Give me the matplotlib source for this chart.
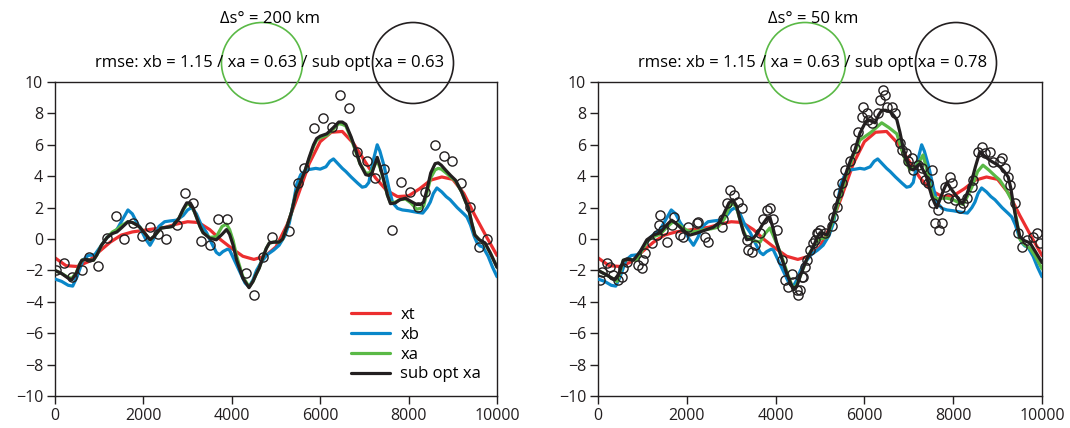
import matplotlib
matplotlib.use("Agg")
import matplotlib.pyplot as plt
from matplotlib.patches import Ellipse

plt.rcParams['font.family'] = ['Open Sans', 'DejaVu Sans']

# ---------------- data ----------------
xt_x = [0, 250, 500, 750, 1000, 1250, 1500, 1750, 2000, 2250, 2500, 2750, 3000, 3250,
        3500, 3750, 4000, 4250, 4500, 4750, 5000, 5250, 5500, 5750, 6000, 6250, 6500,
        6750, 7000, 7250, 7500, 7750, 8000, 8250, 8500, 8750, 9000, 9250, 9500, 9750, 10000]
xt_y = [-1.2, -1.7, -1.75, -1.45, -0.8, -0.2, 0.25, 0.45, 0.55, 0.65, 0.75, 0.95, 1.1, 1.05,
        0.6, -0.05, -0.6, -1.1, -1.3, -1.1, -0.5, 0.9, 2.8, 4.8, 6.2, 6.8, 6.85,
        6.1, 5.0, 3.9, 3.1, 2.7, 2.75, 3.2, 3.75, 3.95, 3.8, 2.9, 1.5, 0.2, -1.05]

xb_x = [0, 150, 300, 400, 500, 630, 750, 900, 1050, 1180, 1300, 1400, 1500, 1650, 1750,
        1850, 1920, 2050, 2150, 2250, 2350, 2480, 2600, 2750, 2900, 3000, 3090, 3200,
        3300, 3430, 3550, 3650, 3720, 3800, 3900, 3950, 4050, 4200, 4300, 4390, 4480,
        4560, 4660, 4800, 4950, 5070, 5200, 5300, 5400, 5470, 5560, 5680, 5800, 5900,
        6000, 6130, 6220, 6300, 6400, 6500, 6580, 6700, 6850, 6950, 7030, 7100, 7200,
        7290, 7350, 7450, 7550, 7640, 7750, 7860, 8000, 8190, 8320, 8420, 8490, 8560,
        8640, 8750, 8850, 8940, 9100, 9250, 9320, 9400, 9480, 9550, 9620, 9680, 9800,
        9900, 10000]
xb_y = [-2.55, -2.7, -2.95, -3.0, -2.4, -1.35, -1.05, -1.0, -0.4, 0.1, 0.4, 0.6, 1.1, 1.85, 1.6,
        1.05, 0.75, 0.0, -0.4, 0.1, 0.8, 1.1, 1.15, 1.2, 1.5, 1.85, 2.0, 1.6,
        0.95, 0.4, -0.3, -0.85, -1.0, -0.8, -0.65, -0.7, -1.3, -2.2, -2.8, -3.05, -2.6,
        -2.0, -1.5, -1.0, -0.7, -0.4, 0.2, 1.0, 2.4, 3.5, 4.1, 4.4, 4.45, 4.5,
        4.45, 4.6, 4.95, 5.1, 4.8, 4.5, 4.3, 3.95, 3.55, 3.3, 3.35, 3.6, 5.0,
        6.0, 5.6, 4.6, 3.3, 2.3, 1.95, 1.85, 1.8, 1.7, 1.65, 2.0, 2.35, 2.9,
        3.25, 3.0, 2.7, 2.5, 2.0, 1.6, 1.4, 0.9, 0.2, -0.25, -0.45, -0.5, -1.1,
        -1.8, -2.4]

# left panel (200 km)
sub1_x = [0, 150, 300, 380, 480, 560, 610, 700, 800, 870, 950, 1050, 1180, 1300, 1400,
          1500, 1650, 1750, 1850, 1920, 2050, 2150, 2250, 2400, 2550, 2660, 2800, 2900,
          2980, 3060, 3120, 3200, 3280, 3350, 3500, 3650, 3780, 3880, 3950, 4030, 4110,
          4250, 4390, 4480, 4550, 4620, 4700, 4780, 4850, 4950, 5070, 5150, 5250, 5350,
          5450, 5550, 5650, 5750, 5850, 5920, 6000, 6150, 6300, 6420, 6500, 6580, 6700,
          6800, 6900, 7030, 7100, 7170, 7230, 7290, 7370, 7450, 7520, 7590, 7700, 7800,
          7930, 8050, 8180, 8270, 8340, 8420, 8500, 8600, 8670, 8740, 8850, 8950, 9060,
          9200, 9300, 9350, 9430, 9500, 9600, 9730, 9850, 10000]
sub1_y = [-2.0, -2.2, -2.5, -2.6, -2.2, -1.6, -1.35, -1.3, -1.35, -1.35, -1.0, -0.4, 0.1, 0.35, 0.45,
          0.7, 1.1, 1.05, 0.9, 0.75, 0.3, -0.05, 0.2, 0.7, 0.75, 0.8, 1.3, 1.9,
          2.3, 2.3, 2.0, 1.4, 0.8, 0.4, 0.05, -0.05, 0.3, 0.6, 0.3, -0.4, -1.35,
          -2.5, -3.1, -2.7, -2.25, -1.85, -1.2, -0.6, -0.25, -0.2, -0.2, 0.0, 0.8, 1.7,
          2.9, 3.6, 4.3, 5.2, 6.0, 6.4, 6.55, 6.7, 7.1, 7.45, 7.45, 7.3, 6.5,
          5.7, 4.8, 4.1, 4.05, 4.2, 4.7, 5.2, 4.5, 3.6, 2.8, 2.25, 2.3, 2.5,
          2.6, 2.4, 2.2, 2.2, 2.35, 3.2, 4.2, 4.8, 4.85, 4.7, 4.35, 4.05, 3.75,
          3.0, 2.3, 2.0, 1.0, 0.25, -0.05, -0.25, -0.9, -1.8]

xa1_x = sub1_x
xa1_y = [-2.0, -2.2, -2.45, -2.5, -2.15, -1.6, -1.35, -1.3, -1.35, -1.35, -1.0, -0.4, 0.1, 0.45, 0.6,
         0.85, 1.1, 1.05, 0.9, 0.75, 0.3, -0.05, 0.2, 0.7, 0.75, 0.8, 1.3, 1.85,
         2.2, 2.2, 1.95, 1.4, 0.8, 0.4, 0.1, 0.15, 0.8, 0.95, 0.6, -0.1, -1.1,
         -2.4, -3.05, -2.7, -2.25, -1.85, -1.2, -0.6, -0.25, -0.2, -0.2, 0.0, 0.8, 1.7,
         2.9, 3.6, 4.3, 5.1, 5.9, 6.3, 6.45, 6.6, 7.0, 7.35, 7.3, 7.2, 6.4,
         5.6, 4.8, 4.2, 4.2, 4.35, 4.7, 5.0, 4.4, 3.6, 2.8, 2.3, 2.35, 2.5,
         2.55, 2.3, 1.9, 1.95, 2.1, 3.0, 3.9, 4.4, 4.5, 4.45, 4.2, 3.95, 3.7,
         3.0, 2.3, 2.0, 1.0, 0.25, -0.05, -0.3, -0.9, -1.8]

obs1_x = [30, 200, 380, 610, 770, 970, 1180, 1370, 1550, 1760, 1960, 2150, 2340, 2520,
          2750, 2930, 3130, 3310, 3510, 3690, 3890, 4320, 4500, 4700, 4900, 5290, 5500,
          5630, 5860, 6060, 6260, 6450, 6650, 6830, 7050, 7250, 7450, 7630, 7830, 8030,
          8210, 8380, 8600, 8800, 8990, 9190, 9390, 9590, 9780]
obs1_y = [-2.0, -1.5, -2.4, -2.0, -1.15, -1.7, 0.05, 1.45, 0.0, 1.0, 0.2, 0.75, 0.3, 0.0,
          0.9, 2.9, 2.3, -0.1, -0.4, 1.25, 1.25, -2.15, -3.55, -1.15, 0.15, 0.5, 3.55,
          4.5, 7.1, 7.7, 7.15, 9.15, 8.35, 5.55, 5.0, 3.9, 4.45, 0.6, 3.65, 3.0,
          2.05, 3.0, 6.0, 5.3, 5.0, 3.55, 2.05, -0.5, 0.0]

# right panel (50 km)
xa2_x = [0, 200, 430, 500, 570, 700, 870, 1000, 1100, 1250, 1400, 1550, 1690, 1800,
         1900, 2000, 2140, 2250, 2400, 2550, 2700, 2850, 2950, 3040, 3120, 3200, 3280,
         3350, 3500, 3650, 3750, 3870, 3950, 4040, 4140, 4280, 4400, 4480, 4550, 4620,
         4730, 4850, 4930, 5000, 5160, 5270, 5380, 5500, 5610, 5750, 5900, 6000, 6150,
         6270, 6390, 6550, 6730, 6850, 6950, 7030, 7150, 7250, 7320, 7400, 7480, 7550,
         7650, 7760, 7860, 8000, 8100, 8220, 8300, 8420, 8550, 8670, 8800, 8950, 9050,
         9200, 9350, 9430, 9500, 9600, 9730, 9850, 10000]
xa2_y = [-2.0, -2.3, -2.7, -2.1, -1.35, -1.3, -1.35, -0.7, -0.15, 0.15, 0.3, 0.75, 1.1, 0.95,
         0.75, 0.55, 0.45, 0.5, 0.6, 0.65, 0.75, 1.3, 2.0, 2.3, 2.0, 1.2, 0.5,
         0.05, -0.1, -0.2, 0.3, 0.7, 0.2, -0.4, -1.15, -2.3, -3.2, -2.9, -2.4, -1.9,
         -1.1, -0.5, -0.15, 0.0, 0.1, 1.0, 2.0, 3.1, 4.2, 5.3, 6.3, 6.5, 6.8,
         7.1, 7.4, 7.1, 6.7, 5.6, 4.8, 4.4, 4.6, 5.0, 5.35, 4.5, 3.4, 2.7,
         2.55, 2.6, 2.6, 2.5, 2.35, 2.2, 2.6, 3.3, 4.3, 4.7, 4.4, 4.0, 3.75,
         3.1, 2.3, 1.2, 0.0, -0.35, -0.6, -1.1, -1.9]

sub2_x = [0, 200, 380, 470, 570, 700, 800, 950, 1100, 1250, 1400, 1550, 1660, 1750,
          1850, 1950, 2070, 2200, 2300, 2450, 2600, 2750, 2850, 2950, 3040, 3120, 3200,
          3280, 3350, 3500, 3600, 3700, 3800, 3870, 3950, 4020, 4100, 4250, 4400, 4480,
          4550, 4620, 4700, 4850, 4920, 5000, 5080, 5160, 5270, 5380, 5500, 5610, 5700,
          5790, 5900, 6000, 6080, 6160, 6240, 6320, 6390, 6480, 6580, 6650, 6730, 6800,
          6870, 6950, 7030, 7100, 7170, 7250, 7320, 7400, 7460, 7520, 7580, 7630, 7700,
          7780, 7860, 7950, 8080, 8150, 8220, 8300, 8420, 8500, 8600, 8700, 8830, 8950,
          9050, 9150, 9240, 9300, 9350, 9420, 9500, 9600, 9730, 9850, 10000]
sub2_y = [-2.0, -2.3, -2.6, -2.2, -1.35, -1.3, -1.35, -0.8, -0.05, 0.25, 0.4, 0.9, 1.2, 1.0,
          0.75, 0.45, 0.25, 0.35, 0.45, 0.6, 0.75, 1.1, 1.7, 2.3, 2.5, 2.1, 1.2,
          0.4, -0.05, 0.05, 0.4, 0.9, 1.3, 1.4, 0.6, -0.2, -0.9, -2.2, -3.25, -3.0,
          -2.4, -1.85, -1.3, -0.5, 0.0, 0.4, 0.35, 0.25, 1.2, 2.3, 3.4, 4.4, 5.1,
          5.7, 6.75, 7.3, 7.6, 7.5, 7.4, 7.9, 8.2, 8.2, 8.1, 7.9, 7.6, 6.8,
          5.85, 5.0, 4.5, 4.4, 4.6, 4.8, 4.4, 3.95, 3.3, 2.7, 2.3, 2.0, 2.5,
          3.1, 3.6, 3.2, 2.7, 2.4, 2.3, 2.8, 3.75, 4.6, 5.55, 5.3, 5.0, 4.8,
          4.6, 4.3, 3.95, 3.2, 2.3, 1.2, 0.15, -0.1, -0.25, -0.8, -1.5]

obs2_x = [45, 100, 200, 270, 340, 450, 540, 570, 650, 900, 990, 1010, 1060, 1220, 1330,
          1380, 1400, 1470, 1560, 1660, 1710, 1850, 1920, 2030, 2230, 2260, 2410, 2480,
          2790, 2820, 2900, 2970, 3060, 3160, 3240, 3350, 3380, 3460, 3540, 3650, 3720,
          3800, 3870, 3940, 4030, 4140, 4210, 4280, 4370, 4390, 4480, 4500, 4550, 4590,
          4620, 4660, 4700, 4770, 4850, 4890, 4930, 4960, 5000, 5110, 5270, 5290, 5380,
          5410, 5500, 5560, 5680, 5790, 5860, 5950, 5970, 6060, 6080, 6170, 6310, 6350,
          6420, 6460, 6510, 6620, 6690, 6800, 6850, 6940, 6980, 7070, 7100, 7210, 7300,
          7360, 7430, 7520, 7550, 7590, 7660, 7680, 7750, 7810, 7880, 7930, 7970, 8040,
          8150, 8220, 8310, 8420, 8450, 8560, 8650, 8720, 8830, 8900, 9050, 9100, 9170,
          9240, 9280, 9390, 9460, 9550, 9660, 9800, 9890, 9950]
obs2_y = [-2.6, -2.1, -1.5, -1.8, -2.3, -2.6, -2.4, -1.85, -1.45, -1.65, -1.85, -1.35, -0.9, -0.25, 0.25,
          0.9, 1.5, 0.55, -0.2, 0.9, 1.4, 0.25, 0.15, 0.75, 1.0, 1.1, 0.15, -0.2,
          0.75, 1.3, 2.3, 3.1, 2.8, 2.35, 2.0, -0.05, -0.7, -0.85, -0.4, 0.4, 1.3,
          1.85, 2.0, 1.3, 0.55, -1.35, -2.6, -3.05, -2.2, -2.75, -3.25, -3.55, -3.25, -2.4,
          -2.4, -1.8, -1.35, -0.7, -0.25, -0.05, 0.4, 0.4, 0.55, 0.4, 0.8, 1.4, 2.05,
          2.9, 3.55, 4.4, 5.0, 5.8, 6.8, 7.8, 8.4, 8.0, 7.6, 7.4, 8.0, 8.85,
          9.5, 9.2, 8.4, 8.4, 8.0, 6.1, 5.7, 5.5, 5.0, 5.15, 4.4, 4.7, 4.5,
          3.75, 3.55, 4.4, 2.3, 1.0, 1.85, 0.55, 1.0, 3.3, 2.6, 3.95, 3.55, 2.5,
          2.0, 2.3, 2.6, 3.3, 3.75, 5.55, 5.85, 5.5, 5.55, 4.9, 5.0, 5.15, 4.5,
          3.95, 3.45, 2.3, 0.4, -0.5, -0.05, 0.15, 0.4, -0.25]

titles = ["\u0394s\u00b0 = 200 km", "\u0394s\u00b0 = 50 km"]
rmse_texts = ["rmse: xb = 1.15 / xa = 0.63 / sub opt xa = 0.63",
              "rmse: xb = 1.15 / xa = 0.63 / sub opt xa = 0.78"]
xticks = [0, 2000, 4000, 6000, 8000, 10000]
yticks = [-10, -8, -6, -4, -2, 0, 2, 4, 6, 8, 10]

C_RED = '#ec2e2f'
C_BLUE = '#0a87c9'
C_GREEN = '#5ab946'
C_BLACK = '#231f20'

W, H = 1070, 428
fig = plt.figure(figsize=(W / 100, H / 100), dpi=100)

axes_px = [(55, 497), (598, 1042)]
text_cx = [270, 813]
top_px, bot_px = 82, 396

panels = [(xa1_x, xa1_y, sub1_x, sub1_y, obs1_x, obs1_y),
          (xa2_x, xa2_y, sub2_x, sub2_y, obs2_x, obs2_y)]

for i, (l, r) in enumerate(axes_px):
    ax = fig.add_axes([l / W, 1 - bot_px / H, (r - l) / W, (bot_px - top_px) / H])
    xa_x, xa_y, sb_x, sb_y, ob_x, ob_y = panels[i]
    lw = 2.3
    kw = dict(lw=lw, solid_joinstyle='round', solid_capstyle='round')
    ax.plot(xt_x, xt_y, color=C_RED, label='xt', zorder=2, **kw)
    ax.plot(xb_x, xb_y, color=C_BLUE, label='xb', zorder=3, **kw)
    ax.plot(xa_x, xa_y, color=C_GREEN, label='xa', zorder=4, **kw)
    ax.plot(sb_x, sb_y, color=C_BLACK, label='sub opt xa', zorder=5, **kw)
    ax.plot(ob_x, ob_y, linestyle='none', marker='o', ms=6.6, mfc='none',
            mec=C_BLACK, mew=1.0, zorder=6)
    ax.set_xlim(0, 10000)
    ax.set_ylim(-10, 10)
    ax.set_xticks(xticks)
    ax.set_yticks(yticks)
    ax.tick_params(direction='out', length=6, width=1, labelsize=11.5, colors=C_BLACK,
                   pad=2.5)
    for s in ax.spines.values():
        s.set_linewidth(1.0)
        s.set_color(C_BLACK)
    if i == 0:
        ax.legend(loc='upper left', bbox_to_anchor=(0.655, 0.305), frameon=False,
                  fontsize=12, handlelength=2.35, labelspacing=0.23,
                  handletextpad=0.6, borderaxespad=0)
    cx = text_cx[i]
    fig.text(cx / W, 1 - 19 / H, titles[i], ha='center', va='center', fontsize=12)
    fig.text(cx / W, 1 - 63 / H, rmse_texts[i], ha='center', va='center', fontsize=12)

# highlight circles (figure pixel coordinates)
circles = [(262, 63, C_GREEN), (413, 63, C_BLACK), (805, 63, C_GREEN), (956, 63, C_BLACK)]
for cxp, cyp, col in circles:
    e = Ellipse((cxp / W, 1 - cyp / H), 81 / W, 81 / H, transform=fig.transFigure,
                fill=False, edgecolor=col, lw=1.2)
    fig.add_artist(e)

fig.savefig('out.png', dpi=100)
